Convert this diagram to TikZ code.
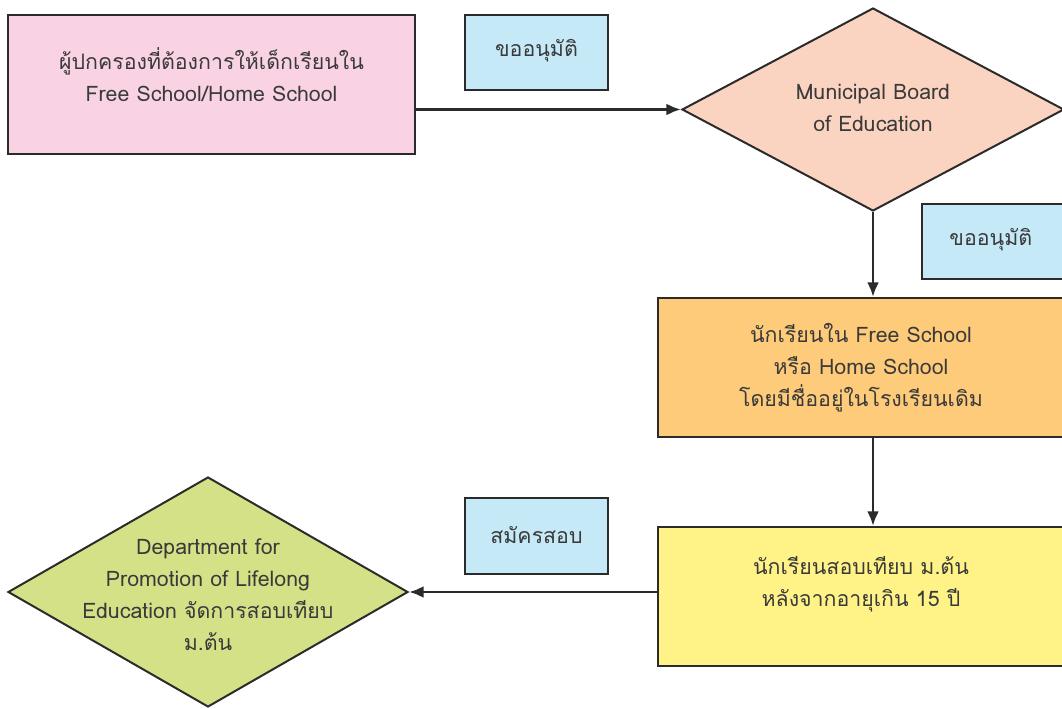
\documentclass[tikz,border=0pt]{standalone}
\usepackage{fontspec}
\setmainfont[Script=Thai]{Loma}
\usetikzlibrary{shapes.geometric,arrows.meta}

\definecolor{pinkfill}{HTML}{F9D3E3}
\definecolor{bluefill}{HTML}{C6E9F8}
\definecolor{peachfill}{HTML}{FBD3C1}
\definecolor{orangefill}{HTML}{FDCB79}
\definecolor{yellowfill}{HTML}{FFF387}
\definecolor{greenfill}{HTML}{D5E187}
\definecolor{edge}{HTML}{2B2B2B}
\definecolor{txt}{HTML}{3A3A3A}

\tikzset{
  box/.style={draw=edge, line width=1.5pt, inner sep=0pt},
  dia/.style={draw=edge, line width=1.5pt, diamond, inner sep=0pt},
  lbl/.style={text=txt, align=center, font=\fontsize{16}{24}\selectfont},
  flow/.style={draw=edge, line width=2.2pt, -{Latex[length=11pt,width=9pt]}}
}

\begin{document}
\begin{tikzpicture}[x=0.75pt,y=-0.75pt]
\useasboundingbox (0,0) rectangle (1062,709);
\clip (0,0) rectangle (1062,709);

% boxes
\node [box, fill=pinkfill, minimum width=305.25pt, minimum height=104.25pt] (parent) at (211.5,84.5) {};
\node [box, fill=bluefill, minimum width=107.25pt, minimum height=56.25pt] (ask1) at (536.5,52.5) {};
\node [dia, fill=peachfill, minimum width=286.5pt, minimum height=152.25pt] (board) at (873,109.5) {};
\node [box, fill=bluefill, minimum width=107.25pt, minimum height=56.25pt] (ask2) at (993.5,241.5) {};
\node [box, fill=orangefill, minimum width=304.5pt, minimum height=104.25pt] (student) at (861,367.5) {};
\node [box, fill=yellowfill, minimum width=304.5pt, minimum height=104.25pt] (exam) at (861,596.5) {};
\node [box, fill=bluefill, minimum width=107.25pt, minimum height=57pt] (apply) at (536.5,536) {};
\node [dia, fill=greenfill, minimum width=300pt, minimum height=172.5pt] (dept) at (208,592) {};

% texts
\node [lbl, yshift=7.5pt] (parent-t) at (parent) {ผู้ปกครองที่ต้องการให้เด็กเรียนใน\\Free School/Home School};
\node [lbl, yshift=1.5pt] (ask1-t) at (ask1) {ขออนุมัติ};
\node [lbl, yshift=1.5pt] (board-t) at (board) {Municipal Board\\of Education};
\node [lbl, xshift=-2pt, yshift=1.5pt] (ask2-t) at (ask2) {ขออนุมัติ};
\node [lbl] (student-t) at (student) {นักเรียนใน Free School\\หรือ Home School\\โดยมีชื่ออยู่ในโรงเรียนเดิม};
\node [lbl, yshift=9.5pt] (exam-t) at (exam) {นักเรียนสอบเทียบ ม.ต้น\\หลังจากอายุเกิน 15 ปี};
\node [lbl, yshift=1pt] (apply-t) at (apply) {สมัครสอบ};
\node [lbl, yshift=-2pt] (dept-t) at (dept) {Department for\\Promotion of Lifelong\\Education จัดการสอบเทียบ\\ม.ต้น};

% arrows
\draw [flow] (parent.east |- board.west) -- (board.west);
\draw [flow] (board.south) -- (board.south |- student.north);
\draw [flow] (board.south |- student.south) -- (board.south |- exam.north);
\draw [flow] (exam.west |- dept.east) -- (dept.east);
\end{tikzpicture}
\end{document}
